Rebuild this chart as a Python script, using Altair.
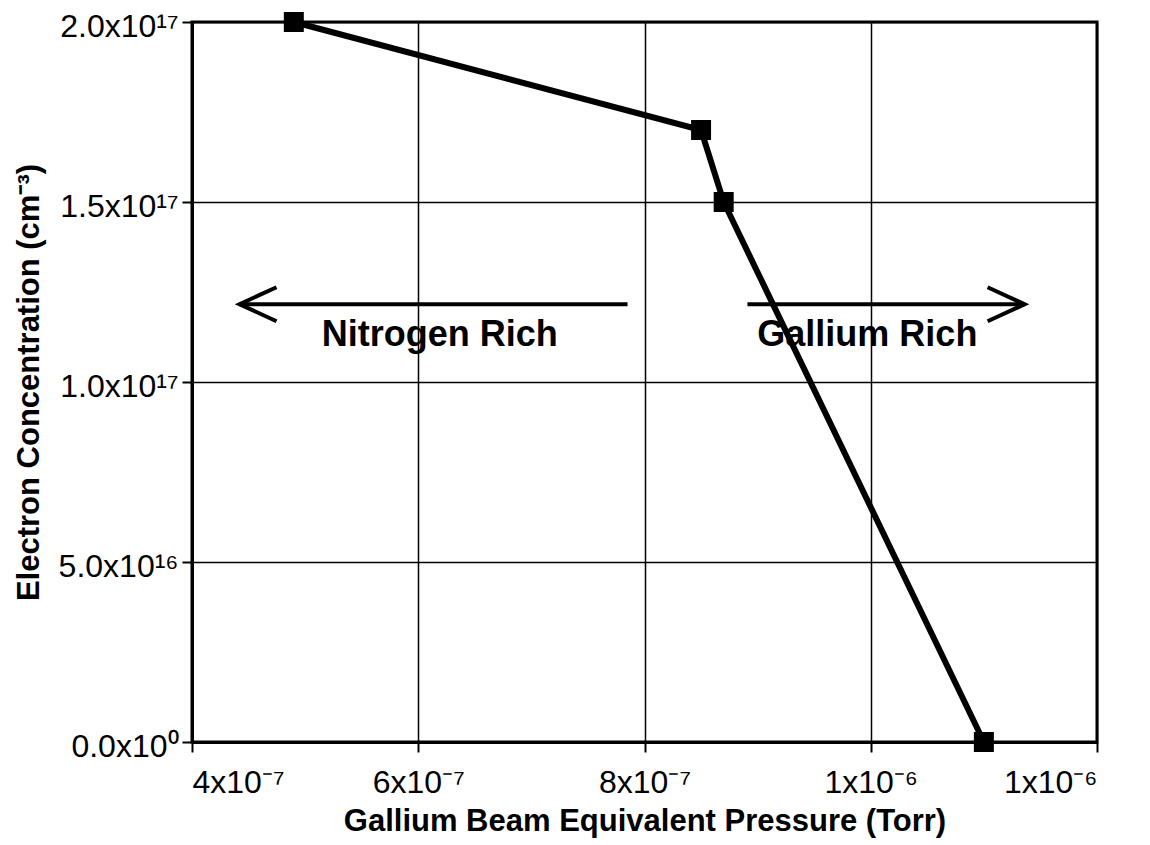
import altair as alt
import pandas as pd

# Measured data
pressure = [4.9e-7, 8.5e-7, 8.7e-7, 1.1e-6]
concentration = [2.0e17, 1.7e17, 1.5e17, 0.0]

# Axis ticks and labels
x_ticks = [4e-7, 6e-7, 8e-7, 1e-6, 1.2e-6]
x_tick_labels = ["4x10⁻⁷", "6x10⁻⁷", "8x10⁻⁷", "1x10⁻⁶", "1x10⁻⁶"]
y_ticks = [0.0, 5e16, 1e17, 1.5e17, 2e17]
y_tick_labels = ["0.0x10⁰", "5.0x10¹⁶", "1.0x10¹⁷", "1.5x10¹⁷", "2.0x10¹⁷"]

# Annotations
region_labels = ["Nitrogen Rich", "Gallium Rich"]
region_label_x = [6.19e-7, 9.97e-7]
region_label_y = [1.13e17, 1.13e17]
arrow_dir = ["left", "right"]
arrow_tip_x = [4.42e-7, 1.136e-6]
arrow_tail_x = [7.85e-7, 8.91e-7]
arrow_y = [1.216e17, 1.216e17]

FONT = "Liberation Sans"

data = pd.DataFrame({"p": pressure, "n": concentration})
notes = pd.DataFrame({"label": region_labels, "x": region_label_x, "y": region_label_y})
arrows = pd.DataFrame({"dir": arrow_dir, "tip": arrow_tip_x, "tail": arrow_tail_x, "y": arrow_y})

x_expr = "[" + ",".join("'%s'" % s for s in x_tick_labels) + "][round(datum.value*10000000/2) - 2]"
y_expr = "[" + ",".join("'%s'" % s for s in y_tick_labels) + "][round(datum.value/50000000000000000)]"

x_scale = alt.Scale(domain=[4e-7, 1.2e-6], nice=False, zero=False)
y_scale = alt.Scale(domain=[0, 2e17], nice=False)

x_axis = alt.Axis(values=x_ticks, labelExpr=x_expr, title="Gallium Beam Equivalent Pressure (Torr)",
                  labelPadding=15, titlePadding=8)
y_axis = alt.Axis(values=y_ticks, labelExpr=y_expr, title="Electron Concentration (cm⁻³)",
                  labelPadding=4, titlePadding=13, labelOffset=4)

X = alt.X("p:Q", scale=x_scale, axis=x_axis)
Y = alt.Y("n:Q", scale=y_scale, axis=y_axis)

line = alt.Chart(data).mark_line(color="black", strokeWidth=6).encode(x=X, y=Y)
pts = alt.Chart(data).mark_point(shape="square", filled=True, size=400, color="black", opacity=1).encode(x=X, y=Y)

shaft = alt.Chart(arrows).mark_rule(color="black", strokeWidth=4).encode(
    x=alt.X("tip:Q", scale=x_scale), x2="tail:Q", y=alt.Y("y:Q", scale=y_scale))
heads = alt.Chart(arrows).mark_point(filled=False, color="black", strokeWidth=4, size=5476, opacity=1).encode(
    x=alt.X("tip:Q", scale=x_scale), y=alt.Y("y:Q", scale=y_scale),
    shape=alt.Shape("dir:N", scale=alt.Scale(domain=["left", "right"],
                                             range=["M1,-0.46L0,0L1,0.46", "M-1,-0.46L0,0L-1,0.46"]),
                    legend=None))
texts = alt.Chart(notes).mark_text(font=FONT, fontSize=36, fontWeight="bold", color="black",
                                   align="center", baseline="middle").encode(
    x=alt.X("x:Q", scale=x_scale), y=alt.Y("y:Q", scale=y_scale), text="label:N")

chart = alt.layer(shaft, heads, texts, line, pts).properties(
    width=905, height=720,
    autosize=alt.AutoSizeParams(type="none"),
    padding={"left": 184, "top": 14, "right": 45, "bottom": 101},
    background="white",
).configure_view(stroke="black", strokeWidth=3).configure_axis(
    domainColor="black", domainWidth=3,
    grid=True, gridColor="black", gridWidth=1.5, gridOpacity=1,
    tickColor="black", tickSize=10, tickWidth=2,
    labelFont=FONT, labelFontSize=32, labelColor="black",
    titleFont=FONT, titleFontSize=31, titleFontWeight="bold", titleColor="black",
)

chart.save("out.html", embed_options={"renderer": "svg", "actions": False})
